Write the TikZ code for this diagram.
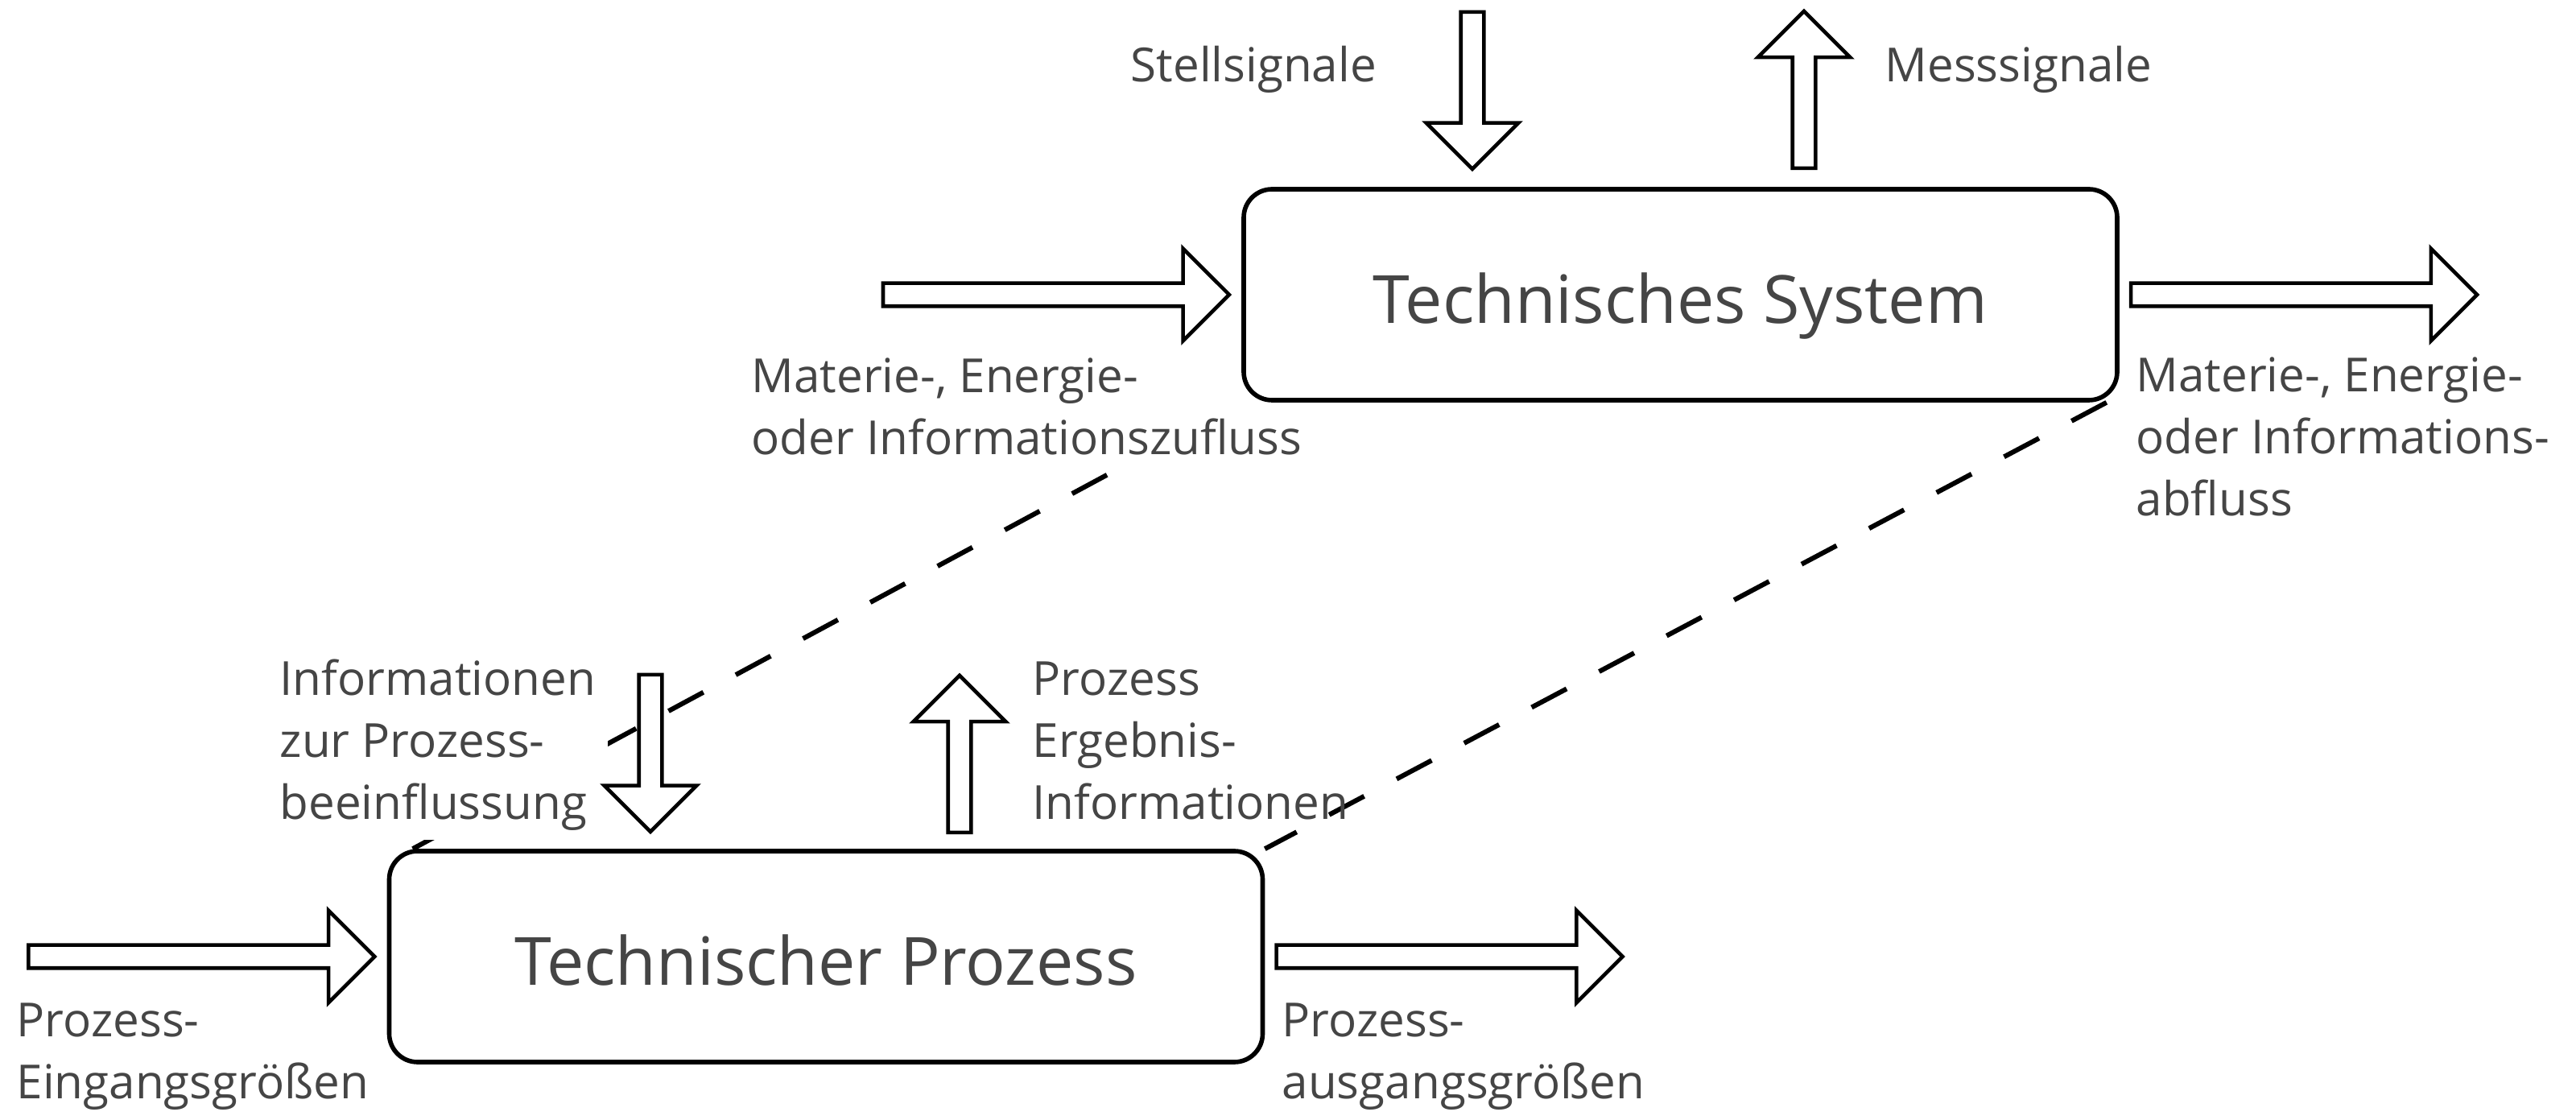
\documentclass[tikz,border=0pt]{standalone}
\usepackage{fontspec}
\setmainfont{Open Sans}
\usepackage{tikz}
\usetikzlibrary{shapes.arrows,calc,positioning,backgrounds}
\definecolor{schriftgrau}{HTML}{454545}

\begin{document}
\begin{tikzpicture}[
	kasten/.style={draw,line width=1.6pt,rounded corners=10pt,fill=white,minimum width=10.85cm,minimum height=2.62cm,text height=0.71cm,text depth=0pt,text=schriftgrau,font=\fontsize{23.5}{28}\selectfont},
	blockpfeil/.style={single arrow,draw,line width=1.3pt,fill=white,inner sep=0.12cm,minimum width=1.1cm,single arrow head extend=0.43cm,single arrow tip angle=90},
	lang/.style={minimum height=4.3cm},
	kurz/.style={minimum height=1.95cm},
	beschriftung/.style={anchor=base west,align=left,inner xsep=0pt,inner ysep=3pt,text=schriftgrau,font=\fontsize{16.6}{22}\selectfont},
	abdecken/.style={fill=white,inner xsep=0.15cm},
	verbindung/.style={line width=1.7pt,dash pattern=on 14pt off 13pt}]
	\useasboundingbox (0,0) rectangle (32,-13.81);

	% die beiden Kaesten
	\node[kasten] (sys) at (20.875,-3.66) {Technisches System};
	\node[kasten] (proc) at (10.26,-11.88) {Technischer Prozess};

	\begin{scope}[on background layer]
	% gestrichelte Verbindungen
	\draw[verbindung] (sys.south west) -- ($(proc.north west)+(0.32,0)$);
	\draw[verbindung] ($(sys.south east)+(-0.16,0)$) -- (proc.north east);

	% Beschriftungen
	\node[beschriftung] (stelltext) at (14.04,-1.02) {Stellsignale};
	\node[beschriftung] (messtext) at (23.41,-1.02) {Messsignale};
	\node[beschriftung,abdecken] (zuflusstext) at (9.18,-5.65) {Materie-, Energie-\\oder Informationszufluss};
	\node[beschriftung] (abflusstext) at (26.53,-6.41) {Materie-, Energie-\\oder Informations-\\abfluss};
	\node[beschriftung,abdecken] (beeinfltext) at (3.32,-10.18) {Informationen\\zur Prozess-\\beeinflussung};
	\node[beschriftung] (ergebnistext) at (12.82,-10.18) {Prozess\\Ergebnis-\\Informationen};
	\node[beschriftung] (eingangtext) at (0.20,-13.65) {Prozess-\\Eingangsgrößen};
	\node[beschriftung] (ausgangtext) at (15.92,-13.65) {Prozess-\\ausgangsgrößen};
	\end{scope}

	% Blockpfeile
	\node[blockpfeil,lang,anchor=tip] (zufluss) at ($(sys.west)+(-0.12,0)$) {};
	\node[blockpfeil,lang,anchor=tail] (abfluss) at ($(sys.east)+(0.12,0)$) {};
	\node[blockpfeil,kurz,rotate=-90,anchor=tip] (stell) at ($(sys.north)+(-2.585,0.19)$) {};
	\node[blockpfeil,kurz,rotate=90,anchor=tail] (mess) at ($(sys.north)+(1.535,0.21)$) {};
	\node[blockpfeil,lang,anchor=tip] (eingang) at ($(proc.west)+(-0.12,0)$) {};
	\node[blockpfeil,lang,anchor=tail] (ausgang) at ($(proc.east)+(0.12,0)$) {};
	\node[blockpfeil,kurz,rotate=-90,anchor=tip] (beeinfl) at ($(proc.north)+(-2.18,0.18)$) {};
	\node[blockpfeil,kurz,rotate=90,anchor=tail] (ergebnis) at ($(proc.north)+(1.66,0.18)$) {};
\end{tikzpicture}
\end{document}
